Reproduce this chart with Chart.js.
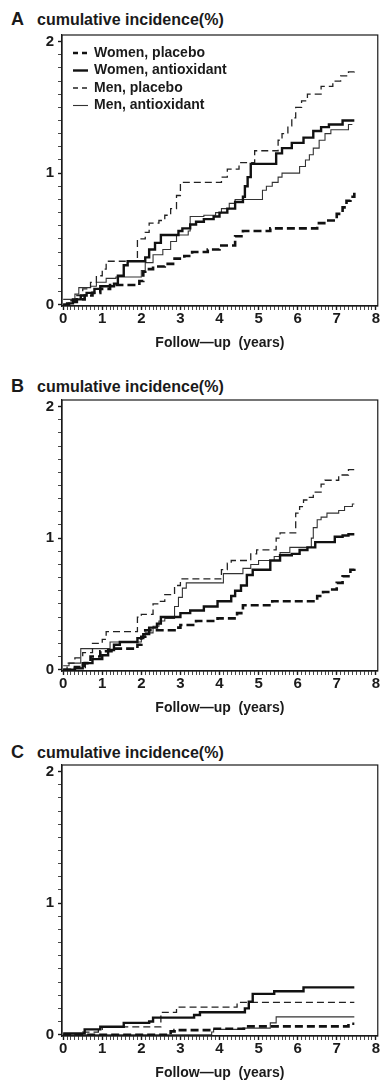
<!DOCTYPE html>
<html>
<head>
<meta charset="utf-8">
<script src="https://cdn.jsdelivr.net/npm/chart.js@4.4.1/dist/chart.umd.min.js"></script>
<style>
    body { margin: 0; background: #fff; }
    #page { position: relative; width: 380px; height: 1086px; overflow: hidden; font-family: "Liberation Sans", Arial, sans-serif; color: #1a1a1a; }
    canvas { position: absolute; left: 0; }
    .ttl { position: absolute; left: 11px; font-weight: bold; white-space: nowrap; }
    .ttl .tag { font-size: 18px; display: inline-block; width: 26px; }
    .ttl .txt { font-size: 16px; }
</style>
</head>
<body>
<div id="page">
    <div class="ttl" style="top:9px"><span class="tag">A</span><span class="txt">cumulative incidence(%)</span></div>
    <canvas id="chartA" width="380" height="356" style="top:0"></canvas>
    <div class="ttl" style="top:376px"><span class="tag">B</span><span class="txt">cumulative incidence(%)</span></div>
    <canvas id="chartB" width="380" height="356" style="top:365px"></canvas>
    <div class="ttl" style="top:742px"><span class="tag">C</span><span class="txt">cumulative incidence(%)</span></div>
    <canvas id="chartC" width="380" height="356" style="top:730px"></canvas>
</div>
<script>
//  Series names (same for every panel)
const seriesNames = ["Women, placebo", "Women, antioxidant", "Men, placebo", "Men, antioxidant"];

//  Axis tick labels
const xTickLabels = [0, 1, 2, 3, 4, 5, 6, 7, 8];
const yTickLabels = [0, 1, 2];

//  Panel A: [follow-up years, cumulative incidence %]
const aWomenPlacebo = [[0,0],[0.15,0.02],[0.35,0.04],[0.55,0.07],[0.75,0.09],[0.95,0.12],[1.2,0.15],[1.95,0.18],[2.05,0.25],[2.1,0.27],[2.3,0.29],[2.6,0.31],[2.85,0.35],[3.1,0.37],[3.3,0.4],[3.7,0.42],[4.0,0.45],[4.4,0.52],[4.6,0.56],[5.3,0.58],[6.5,0.62],[6.75,0.64],[7.0,0.69],[7.15,0.74],[7.25,0.79],[7.35,0.82],[7.45,0.85]];
const aWomenAntiox = [[0,0],[0.1,0.01],[0.25,0.04],[0.45,0.07],[0.6,0.09],[0.8,0.12],[0.95,0.14],[1.3,0.16],[1.4,0.22],[1.55,0.3],[1.65,0.33],[2.1,0.36],[2.2,0.42],[2.35,0.47],[2.5,0.53],[2.95,0.56],[3.05,0.58],[3.25,0.61],[3.4,0.63],[3.6,0.65],[3.85,0.67],[4.0,0.7],[4.2,0.73],[4.4,0.78],[4.6,0.82],[4.65,0.9],[4.72,0.97],[4.8,1.07],[5.45,1.15],[5.6,1.19],[5.85,1.23],[6.15,1.27],[6.4,1.32],[6.6,1.35],[6.8,1.37],[7.15,1.4],[7.45,1.4]];
const aMenPlacebo = [[0,0],[0.15,0.03],[0.35,0.07],[0.5,0.12],[0.7,0.17],[0.85,0.22],[1.0,0.27],[1.1,0.33],[1.9,0.5],[2.1,0.55],[2.2,0.62],[2.45,0.64],[2.6,0.68],[2.75,0.73],[2.9,0.83],[3.0,0.93],[4.05,0.97],[4.2,1.03],[4.5,1.08],[4.9,1.17],[5.5,1.25],[5.6,1.3],[5.75,1.36],[5.85,1.42],[5.95,1.5],[6.1,1.55],[6.25,1.6],[6.6,1.66],[6.9,1.7],[7.1,1.74],[7.3,1.77],[7.45,1.78]];
const aMenAntiox = [[0,0.04],[0.3,0.08],[0.4,0.13],[0.7,0.14],[0.85,0.17],[1.1,0.2],[1.35,0.21],[2.0,0.26],[2.1,0.32],[2.3,0.38],[2.55,0.42],[2.75,0.48],[2.9,0.53],[3.2,0.56],[3.25,0.67],[3.6,0.68],[3.9,0.7],[4.05,0.73],[4.25,0.77],[4.4,0.8],[5.1,0.87],[5.2,0.9],[5.35,0.93],[5.5,0.97],[5.6,1.0],[6.05,1.05],[6.2,1.1],[6.3,1.14],[6.4,1.19],[6.55,1.25],[6.7,1.3],[6.85,1.33],[7.3,1.37],[7.4,1.37]];

//  Panel B
const bWomenPlacebo = [[0,0],[0.3,0.02],[0.55,0.05],[0.7,0.1],[0.95,0.14],[1.3,0.16],[1.9,0.19],[2.0,0.25],[2.1,0.3],[2.85,0.32],[3.0,0.34],[3.4,0.37],[3.95,0.39],[4.45,0.43],[4.6,0.49],[5.35,0.52],[6.5,0.56],[6.65,0.59],[6.85,0.61],[7.0,0.66],[7.15,0.71],[7.35,0.76],[7.45,0.77]];
const bWomenAntiox = [[0,0],[0.3,0.01],[0.5,0.05],[0.75,0.08],[1.0,0.11],[1.15,0.15],[1.3,0.19],[1.45,0.21],[1.9,0.24],[2.05,0.27],[2.2,0.32],[2.4,0.35],[2.5,0.4],[3.0,0.43],[3.25,0.45],[3.6,0.48],[3.95,0.52],[4.3,0.56],[4.4,0.6],[4.55,0.64],[4.7,0.72],[4.85,0.76],[5.3,0.83],[5.55,0.87],[5.85,0.88],[6.05,0.91],[6.25,0.93],[6.45,0.97],[6.95,1.01],[7.15,1.02],[7.3,1.03],[7.45,1.03]];
const bMenPlacebo = [[0,0],[0.1,0.05],[0.3,0.09],[0.5,0.13],[0.75,0.2],[1.0,0.23],[1.1,0.29],[1.9,0.4],[2.0,0.42],[2.3,0.5],[2.45,0.52],[2.6,0.57],[2.85,0.64],[3.0,0.69],[4.05,0.76],[4.2,0.81],[4.3,0.83],[4.8,0.88],[4.95,0.91],[5.45,1.0],[5.55,1.04],[5.95,1.19],[6.05,1.24],[6.15,1.29],[6.3,1.31],[6.4,1.35],[6.6,1.41],[6.7,1.44],[7.05,1.48],[7.3,1.52],[7.45,1.53]];
const bMenAntiox = [[0,0.03],[0.15,0.05],[0.45,0.16],[1.2,0.21],[2.0,0.25],[2.1,0.28],[2.3,0.33],[2.45,0.37],[2.6,0.39],[2.85,0.48],[2.95,0.55],[3.05,0.62],[3.15,0.66],[4.1,0.73],[4.6,0.77],[4.8,0.8],[5.0,0.83],[5.4,0.86],[5.55,0.89],[5.8,0.93],[6.35,1.0],[6.4,1.08],[6.5,1.14],[6.6,1.16],[6.75,1.19],[7.05,1.21],[7.2,1.24],[7.4,1.26],[7.45,1.26]];

//  Panel C
const cWomenPlacebo = [[0,0],[2.75,0.025],[2.85,0.035],[3.8,0.045],[4.7,0.063],[7.3,0.083],[7.45,0.083]];
const cWomenAntiox = [[0,0.01],[0.55,0.04],[0.95,0.06],[1.55,0.09],[2.2,0.1],[2.3,0.13],[3.35,0.15],[3.5,0.17],[4.65,0.2],[4.75,0.25],[4.85,0.31],[5.4,0.33],[6.15,0.36],[7.45,0.36]];
const cMenPlacebo = [[0,0],[0.5,0.02],[0.9,0.04],[1.0,0.06],[2.5,0.17],[2.9,0.21],[4.45,0.245],[7.45,0.245]];
const cMenAntiox = [[0,0],[3.8,0.02],[3.85,0.04],[4.6,0.05],[5.3,0.09],[5.45,0.135],[7.45,0.135]];

//  Line styles, in the order of seriesNames
const lineStyles = [
    { color: "#111", width: 2.6, dash: [8, 4] },
    { color: "#111", width: 2.4, dash: [] },
    { color: "#222", width: 1.3, dash: [7, 4] },
    { color: "#333", width: 1.1, dash: [] }
];

const FONT = "'Liberation Sans', Arial, sans-serif";
const INK = "#1a1a1a";

// ticks every 0.1 between the first and last label
function minorTicks(labels) {
    const out = [];
    const first = labels[0], last = labels[labels.length - 1];
    for (let i = Math.round(first * 10); i <= Math.round(last * 10); i++) out.push({ value: i / 10 });
    return out;
}
function isMajor(v) { return Math.abs(v - Math.round(v)) < 1e-6; }

//  Closed box round the plot area
const framePlugin = {
    id: "frame",
    afterDraw(chart) {
        const { ctx, chartArea: a } = chart;
        ctx.save();
        ctx.strokeStyle = INK;
        ctx.lineWidth = 1.2;
        ctx.strokeRect(a.left, a.top, a.right - a.left, a.bottom - a.top);
        ctx.restore();
    }
};

//  Legend drawn inside the plot area (panel A only)
const boxLegendPlugin = {
    id: "boxLegend",
    afterDraw(chart, args, opts) {
        if (!opts.display) return;
        const { ctx, chartArea: a } = chart;
        ctx.save();
        ctx.font = "bold 14px " + FONT;
        ctx.textBaseline = "middle";
        ctx.fillStyle = INK;
        chart.data.datasets.forEach((ds, i) => {
            const y = a.top + 18 + i * 17.5;
            const x0 = a.left + 11;
            ctx.beginPath();
            ctx.strokeStyle = ds.borderColor;
            ctx.lineWidth = ds.borderWidth;
            ctx.setLineDash(ds.borderDash.length ? [5, 4] : []);
            ctx.moveTo(x0, y);
            ctx.lineTo(x0 + 15, y);
            ctx.stroke();
            ctx.setLineDash([]);
            ctx.fillText(ds.label, x0 + 21, y);
        });
        ctx.restore();
    }
};

function makeChart(id, series, showLegend) {
    const datasets = series.map((pts, i) => ({
        label: seriesNames[i],
        data: pts.map(p => ({ x: p[0], y: p[1] })),
        stepped: "before",
        borderColor: lineStyles[i].color,
        borderWidth: lineStyles[i].width,
        borderDash: lineStyles[i].dash,
        borderCapStyle: "butt",
        borderJoinStyle: "miter",
        pointRadius: 0,
        fill: false
    }));

    return new Chart(document.getElementById(id), {
        type: "line",
        data: { datasets: datasets },
        options: {
            responsive: false,
            animation: false,
            events: [],
            layout: { padding: { top: 35, right: 2, left: 0, bottom: 0 } },
            plugins: {
                legend: { display: false },
                tooltip: { enabled: false },
                boxLegend: { display: showLegend }
            },
            scales: {
                x: {
                    type: "linear",
                    min: -0.03,
                    max: 8.05,
                    afterBuildTicks: ax => { ax.ticks = minorTicks(xTickLabels); },
                    afterFit: ax => { ax.height = 50; },
                    border: { display: true, color: INK, width: 1.2 },
                    grid: {
                        drawOnChartArea: false,
                        tickLength: 4,
                        tickColor: INK,
                        tickWidth: c => (c.tick && isMajor(c.tick.value) ? 1.4 : 0.8)
                    },
                    ticks: {
                        autoSkip: false,
                        maxRotation: 0,
                        padding: 0,
                        color: INK,
                        font: { family: FONT, size: 15, weight: "bold" },
                        callback: v => (isMajor(v) ? String(Math.round(v)) : "")
                    },
                    title: {
                        display: true,
                        text: "Follow\u2014up  (years)",
                        color: INK,
                        font: { family: FONT, size: 14, weight: "bold" },
                        padding: { top: 0, bottom: 4 }
                    }
                },
                y: {
                    min: -0.01,
                    max: 2.05,
                    afterBuildTicks: ax => { ax.ticks = minorTicks(yTickLabels); },
                    afterFit: ax => { ax.width = 62; },
                    border: { display: true, color: INK, width: 1.2 },
                    grid: {
                        drawOnChartArea: false,
                        tickLength: 4,
                        tickColor: INK,
                        tickWidth: c => (c.tick && isMajor(c.tick.value) ? 1.4 : 0.8)
                    },
                    ticks: {
                        autoSkip: false,
                        padding: 4,
                        color: INK,
                        font: { family: FONT, size: 15, weight: "bold" },
                        callback: v => (isMajor(v) ? String(Math.round(v)) : "")
                    }
                }
            }
        },
        plugins: [framePlugin, boxLegendPlugin]
    });
}

makeChart("chartA", [aWomenPlacebo, aWomenAntiox, aMenPlacebo, aMenAntiox], true);
makeChart("chartB", [bWomenPlacebo, bWomenAntiox, bMenPlacebo, bMenAntiox], false);
makeChart("chartC", [cWomenPlacebo, cWomenAntiox, cMenPlacebo, cMenAntiox], false);
</script>
</body>
</html>
